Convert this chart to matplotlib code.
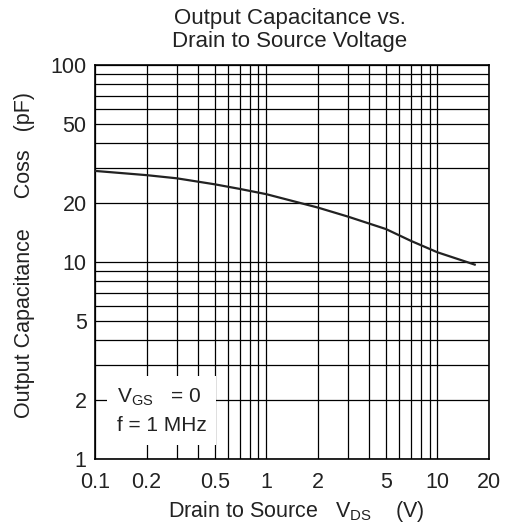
import numpy as np
import matplotlib
matplotlib.use("Agg")
import matplotlib.pyplot as plt
from matplotlib.ticker import FixedLocator, NullFormatter

plt.rcParams['font.family'] = ['Liberation Sans', 'DejaVu Sans']
plt.rcParams['mathtext.fontset'] = 'custom'
plt.rcParams['mathtext.rm'] = 'Liberation Sans'
plt.rcParams['mathtext.it'] = 'Liberation Sans'

# curve
vds = [0.1, 0.2, 0.3, 0.5, 0.7, 1, 2, 3, 5, 7, 10, 16.5]
coss = [29.0, 27.6, 26.6, 24.8, 23.5, 22.1, 18.9, 17.0, 14.7, 12.8, 11.2, 9.7]

x_labels = [0.1, 0.2, 0.5, 1, 2, 5, 10, 20]
x_grid_minor = [0.3, 0.4, 0.6, 0.7, 0.8, 0.9, 3, 4, 6, 7, 8, 9]
y_labels = [1, 2, 5, 10, 20, 50, 100]
y_grid_minor = [3, 4, 6, 7, 8, 9, 30, 40, 60, 70, 80, 90]

txt = '#222222'

fig = plt.figure(figsize=(5.06, 5.31), dpi=100)
ax = fig.add_axes([95/506, 1-459/531, (489-95)/506, (459-65)/531])

ax.set_xscale('log')
ax.set_yscale('log')
ax.set_xlim(0.1, 20)
ax.set_ylim(1, 100)

ax.xaxis.set_major_locator(FixedLocator(x_labels))
ax.xaxis.set_minor_locator(FixedLocator(x_grid_minor))
ax.yaxis.set_major_locator(FixedLocator(y_labels))
ax.yaxis.set_minor_locator(FixedLocator(y_grid_minor))
ax.set_xticklabels([f'{v:g}' for v in x_labels])
ax.set_yticklabels([f'{v:g}' for v in y_labels])
ax.xaxis.set_minor_formatter(NullFormatter())
ax.yaxis.set_minor_formatter(NullFormatter())
ax.tick_params(which='both', length=0, labelsize=15.5, labelcolor=txt)
ax.tick_params(axis='x', pad=9)
ax.tick_params(axis='y', pad=6)

ax.grid(which='both', color='black', lw=0.9)
for s in ax.spines.values():
	s.set_color('black')
	s.set_linewidth(1.2)

ax.plot(vds, coss, color='#222222', lw=1.6, zorder=3)

ax.text(0.134, 1.75, 'V$_{\\rm GS}$   = 0\nf = 1 MHz', fontsize=15, color=txt,
	va='center', ha='left', linespacing=1.55,
	bbox=dict(facecolor='white', edgecolor='none', pad=7), zorder=4)

fig.text(290/506, 1-30/531, 'Output Capacitance vs.\nDrain to Source Voltage',
	ha='center', va='center', fontsize=16, color=txt, linespacing=1.15)
fig.text(296/506, 1-511/531, 'Drain to Source   V$_{\\rm DS}$    (V)',
	ha='center', va='center', fontsize=15.5, color=txt)
fig.text(25/506, 1-255/531, 'Output Capacitance     Coss   (pF)',
	ha='center', va='center', rotation=90, fontsize=15.5, color=txt)

plt.savefig('out.png', dpi=100)
